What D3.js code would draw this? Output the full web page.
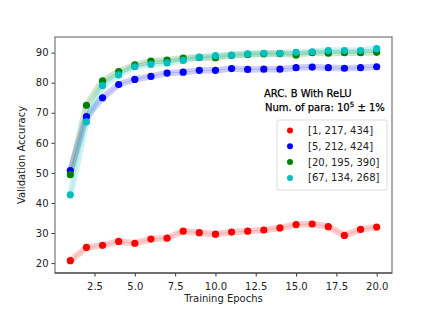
<!DOCTYPE html>
<html>
<head>
<meta charset="utf-8">
<script src="https://cdn.jsdelivr.net/npm/d3@7"></script>
<style>
  body { margin: 0; background: #fff; }
  text { font-family: "DejaVu Sans", sans-serif; }
</style>
</head>
<body>
<svg id="chart" width="436" height="312"></svg>
<script>
var epochs = d3.range(1, 21)

var redVals   = [20.8, 25.2, 25.9, 27.2, 26.6, 28.0, 28.3, 30.6, 30.1, 29.6, 30.3, 30.6, 31.0, 31.7, 32.8, 33.0, 32.1, 29.2, 31.2, 32.0]
var blueVals  = [50.8, 68.7, 75.0, 79.4, 81.1, 82.1, 83.2, 83.5, 84.1, 84.1, 84.7, 84.4, 84.5, 84.5, 85.0, 85.2, 85.0, 84.8, 85.0, 85.3]
var greenVals = [49.4, 72.5, 80.6, 83.7, 85.9, 87.2, 87.5, 88.2, 88.4, 88.3, 89.1, 89.4, 89.6, 89.7, 89.2, 90.0, 89.8, 90.0, 90.0, 90.1]
var cyanVals  = [42.7, 67.0, 79.0, 82.6, 85.3, 86.1, 86.6, 87.4, 88.5, 89.0, 89.2, 89.6, 89.8, 89.8, 90.1, 90.3, 90.7, 90.7, 90.7, 91.3]

var seriesNames = ["[1, 217, 434]", "[5, 212, 424]", "[20, 195, 390]", "[67, 134, 268]"]
var seriesColors = ["#ff0000", "#0000ff", "#008000", "#00bfbf"]
var xTicks = [2.5, 5.0, 7.5, 10.0, 12.5, 15.0, 17.5, 20.0]
var yTicks = [20, 30, 40, 50, 60, 70, 80, 90]

var series = [redVals, blueVals, greenVals, cyanVals].map(function(vals, i) {
	return {name: seriesNames[i], color: seriesColors[i],
		points: vals.map(function(v, j) { return {x: epochs[j], y: v} })}
})

var padL = 55, padR = 392, padT = 37, padB = 273
var svg = d3.select("#chart")

var x = d3.scaleLinear().domain([0.05, 20.95]).range([padL, padR])
var y = d3.scaleLinear().domain([16.7, 95.2]).range([padB, padT])

var line = d3.line()
	.x(function(d) { return x(d.x) })
	.y(function(d) { return y(d.y) })

// bands + thin lines
var plot = svg.append("g")
series.forEach(function(s) {
	plot.append("path")
		.attr("d", line(s.points))
		.attr("fill", "none")
		.attr("stroke", s.color)
		.attr("stroke-width", 6.5)
		.attr("stroke-linejoin", "round")
		.attr("stroke-opacity", 0.2)
	plot.append("path")
		.attr("d", line(s.points))
		.attr("fill", "none")
		.attr("stroke", s.color)
		.attr("stroke-width", 1)
		.attr("stroke-opacity", 0.15)
})
series.forEach(function(s) {
	plot.selectAll(null)
		.data(s.points)
		.enter()
		.append("circle")
		.attr("cx", function(d) { return x(d.x) })
		.attr("cy", function(d) { return y(d.y) })
		.attr("r", 3.6)
		.attr("fill", s.color)
})

// axes
var xAxis = svg.append("g")
	.attr("transform", "translate(0," + padB + ")")
	.call(d3.axisBottom(x).tickValues(xTicks).tickFormat(d3.format(".1f")).tickSize(3.5).tickSizeOuter(0))
var yAxis = svg.append("g")
	.attr("transform", "translate(" + padL + ",0)")
	.call(d3.axisLeft(y).tickValues(yTicks).tickSize(3.5).tickSizeOuter(0))

;[xAxis, yAxis].forEach(function(a) {
	a.select(".domain").remove()
	a.selectAll("line").attr("stroke", "#333")
	a.selectAll("text")
		.attr("font-family", "DejaVu Sans")
		.attr("font-size", "10px")
		.attr("fill", "#222")
})
xAxis.selectAll("text").attr("dy", "1.05em")

// frame
svg.append("rect")
	.attr("x", padL).attr("y", padT)
	.attr("width", padR - padL).attr("height", padB - padT)
	.attr("fill", "none")
	.attr("stroke", "#777")
	.attr("stroke-width", 1.2)
svg.append("line")
	.attr("x1", padL).attr("x2", padR)
	.attr("y1", padB).attr("y2", padB)
	.attr("stroke", "#333")
	.attr("stroke-width", 1.2)

// labels
svg.append("text")
	.text("Training Epochs")
	.attr("x", (padL + padR) / 2)
	.attr("y", 302)
	.attr("text-anchor", "middle")
	.attr("font-size", "10px")
	.attr("fill", "#222")
svg.append("text")
	.text("Validation Accuracy")
	.attr("transform", "translate(25," + (padT + padB) / 2 + ") rotate(-90)")
	.attr("text-anchor", "middle")
	.attr("font-size", "10px")
	.attr("fill", "#222")

// annotation
var note = svg.append("g").attr("font-size", "10px").attr("fill", "#000")
	.attr("stroke", "#000").attr("stroke-width", 0.25)
note.append("text").text("ARC. B With ReLU").attr("x", 264).attr("y", 97)
var t2 = note.append("text").attr("x", 265).attr("y", 111)
t2.append("tspan").text("Num. of para: 10")
t2.append("tspan").text("5").attr("font-size", "7px").attr("dy", -4)
t2.append("tspan").text(" \u00b1 1%").attr("dy", 4)

// legend
var legend = svg.append("g")
legend.append("rect")
	.attr("x", 277).attr("y", 120)
	.attr("width", 110).attr("height", 70)
	.attr("rx", 2)
	.attr("fill", "#fff")
	.attr("fill-opacity", 0.8)
	.attr("stroke", "#ddd")
series.forEach(function(s, i) {
	var ly = 130.5 + i * 15.8
	legend.append("circle")
		.attr("cx", 290).attr("cy", ly)
		.attr("r", 3)
		.attr("fill", s.color)
	legend.append("text")
		.text(s.name)
		.attr("x", 308).attr("y", ly + 3.5)
		.attr("font-size", "10px")
		.attr("fill", "#222")
})
</script>
</body>
</html>
